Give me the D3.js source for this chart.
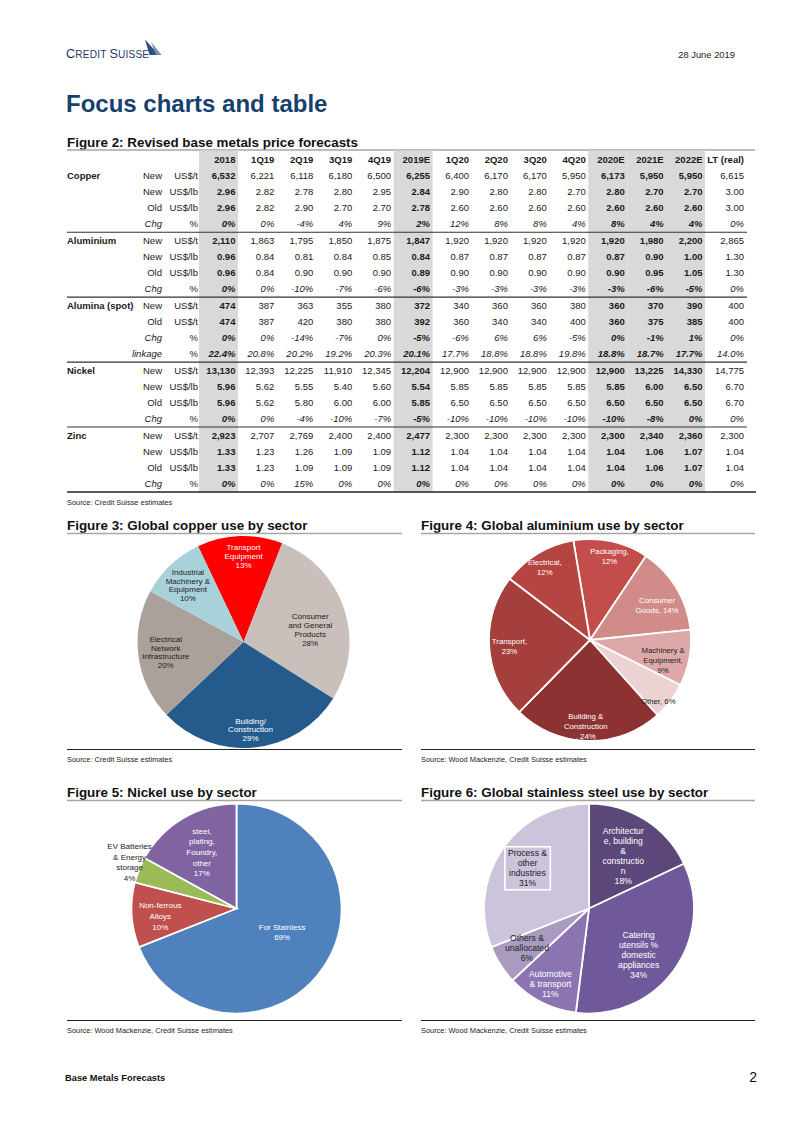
<!DOCTYPE html>
<html>
<head>
<meta charset="utf-8">
<script src="https://cdn.jsdelivr.net/npm/d3@7"></script>
<style>
  body { margin: 0; background: #fff; }
  svg { display: block; }
  text { font-family: "Liberation Sans", Arial, sans-serif; }
</style>
</head>
<body>
<svg id="page" width="802" height="1133"></svg>
<script>
// ---- table data (Figure 2) ----
const tableColumns = ["2018", "1Q19", "2Q19", "3Q19", "4Q19", "2019E", "1Q20", "2Q20", "3Q20", "4Q20", "2020E", "2021E", "2022E", "LT (real)"];
const shadedColumns = ["2018", "2019E", "2020E", "2021E", "2022E"];
const metals = ["Copper", "Aluminium", "Alumina (spot)", "Nickel", "Zinc"];

const copperRows = [
  ["New", "US$/t", ["6,532", "6,221", "6,118", "6,180", "6,500", "6,255", "6,400", "6,170", "6,170", "5,950", "6,173", "5,950", "5,950", "6,615"]],
  ["New", "US$/lb", ["2.96", "2.82", "2.78", "2.80", "2.95", "2.84", "2.90", "2.80", "2.80", "2.70", "2.80", "2.70", "2.70", "3.00"]],
  ["Old", "US$/lb", ["2.96", "2.82", "2.90", "2.70", "2.70", "2.78", "2.60", "2.60", "2.60", "2.60", "2.60", "2.60", "2.60", "3.00"]],
  ["Chg", "%", ["0%", "0%", "-4%", "4%", "9%", "2%", "12%", "8%", "8%", "4%", "8%", "4%", "4%", "0%"]]
];
const aluminiumRows = [
  ["New", "US$/t", ["2,110", "1,863", "1,795", "1,850", "1,875", "1,847", "1,920", "1,920", "1,920", "1,920", "1,920", "1,980", "2,200", "2,865"]],
  ["New", "US$/lb", ["0.96", "0.84", "0.81", "0.84", "0.85", "0.84", "0.87", "0.87", "0.87", "0.87", "0.87", "0.90", "1.00", "1.30"]],
  ["Old", "US$/lb", ["0.96", "0.84", "0.90", "0.90", "0.90", "0.89", "0.90", "0.90", "0.90", "0.90", "0.90", "0.95", "1.05", "1.30"]],
  ["Chg", "%", ["0%", "0%", "-10%", "-7%", "-6%", "-6%", "-3%", "-3%", "-3%", "-3%", "-3%", "-6%", "-5%", "0%"]]
];
const aluminaRows = [
  ["New", "US$/t", ["474", "387", "363", "355", "380", "372", "340", "360", "360", "380", "360", "370", "390", "400"]],
  ["Old", "US$/t", ["474", "387", "420", "380", "380", "392", "360", "340", "340", "400", "360", "375", "385", "400"]],
  ["Chg", "%", ["0%", "0%", "-14%", "-7%", "0%", "-5%", "-6%", "6%", "6%", "-5%", "0%", "-1%", "1%", "0%"]],
  ["linkage", "%", ["22.4%", "20.8%", "20.2%", "19.2%", "20.3%", "20.1%", "17.7%", "18.8%", "18.8%", "19.8%", "18.8%", "18.7%", "17.7%", "14.0%"]]
];
const nickelRows = [
  ["New", "US$/t", ["13,130", "12,393", "12,225", "11,910", "12,345", "12,204", "12,900", "12,900", "12,900", "12,900", "12,900", "13,225", "14,330", "14,775"]],
  ["New", "US$/lb", ["5.96", "5.62", "5.55", "5.40", "5.60", "5.54", "5.85", "5.85", "5.85", "5.85", "5.85", "6.00", "6.50", "6.70"]],
  ["Old", "US$/lb", ["5.96", "5.62", "5.80", "6.00", "6.00", "5.85", "6.50", "6.50", "6.50", "6.50", "6.50", "6.50", "6.50", "6.70"]],
  ["Chg", "%", ["0%", "0%", "-4%", "-10%", "-7%", "-5%", "-10%", "-10%", "-10%", "-10%", "-10%", "-8%", "0%", "0%"]]
];
const zincRows = [
  ["New", "US$/t", ["2,923", "2,707", "2,769", "2,400", "2,400", "2,477", "2,300", "2,300", "2,300", "2,300", "2,300", "2,340", "2,360", "2,300"]],
  ["New", "US$/lb", ["1.33", "1.23", "1.26", "1.09", "1.09", "1.12", "1.04", "1.04", "1.04", "1.04", "1.04", "1.06", "1.07", "1.04"]],
  ["Old", "US$/lb", ["1.33", "1.23", "1.09", "1.09", "1.09", "1.12", "1.04", "1.04", "1.04", "1.04", "1.04", "1.06", "1.07", "1.04"]],
  ["Chg", "%", ["0%", "0%", "15%", "0%", "0%", "0%", "0%", "0%", "0%", "0%", "0%", "0%", "0%", "0%"]]
];
const metalRows = [copperRows, aluminiumRows, aluminaRows, nickelRows, zincRows];

// ---- pie data (Figures 3-6) ----
const copperLabels = ["Transport\nEquipment\n{v}%", "Consumer\nand General\nProducts\n{v}%", "Building/\nConstruction\n{v}%", "Electrical\nNetwork\nInfrastructure\n{v}%", "Industrial\nMachinery &\nEquipment\n{v}%"];
const copperShares = [13, 28, 29, 20, 10];

const aluminiumLabels = ["Packaging,\n{v}%", "Consumer\nGoods, {v}%", "Machinery &\nEquipment,\n{v}%", "Other, {v}%", "Building &\nConstruction\n, {v}%", "Transport,\n{v}%", "Electrical,\n{v}%"];
const aluminiumShares = [12, 14, 9, 6, 24, 23, 12];

const nickelLabels = ["For Stainless\n{v}%", "Non-ferrous\nAlloys\n{v}%", "EV Batteries\n& Energy\nstorage\n{v}%", "steel,\nplating,\nFoundry,\nother\n{v}%"];
const nickelShares = [69, 10, 4, 17];

const stainlessLabels = ["Architectur\ne, building\n&\nconstructio\nn\n{v}%", "Catering\nutensils %\ndomestic\nappliances\n{v}%", "Automotive\n& transport\n{v}%", "Others &\nunallocated\n{v}%", "Process &\nother\nindustries\n{v}%"];
const stainlessShares = [18, 34, 11, 6, 31];

// ---- styles / layout ----
const copperColors = ["#ff0000", "#c9c0bb", "#255b8c", "#aaa19b", "#a9d1da"];
const copperText = ["#fff", "#222", "#fff", "#222", "#222"];
const copperLabelPos = [[0.81, 2], [0.64, 7.6], [0.83, 1], [0.74, 0], [0.75, -1]];

const aluminiumColors = ["#c24d4b", "#d18b89", "#dca9a8", "#ecd2d2", "#8c3233", "#a53f3d", "#b44541"];
const aluminiumText = ["#fff", "#fff", "#222", "#222", "#fff", "#fff", "#fff"];
const aluminiumLabelPos = [[0.85, 1], [0.75, 3.4], [0.75, 5], [0.91, 4.7], [0.86, 1.5], [0.80, -0.6], [0.85, -0.7]];

const nickelColors = ["#4f81bd", "#c0504d", "#9bbb59", "#8064a2"];
const nickelText = ["#fff", "#fff", "#222", "#fff"];
const nickelLabelPos = [[0.49, -6.7], [0.73, -2.3], [1.11, 1.8], [0.63, -1]];

const stainlessColors = ["#5b477a", "#70599a", "#8b74b1", "#a89bbf", "#cbc4da"];
const stainlessText = ["#fff", "#fff", "#fff", "#222", "#222"];
const stainlessLabelPos = [[0.60, 0.5], [0.65, 7.3], [0.81, 0], [0.70, 0], [0.70, -1]];

const navy = "#17406f";
const svg = d3.select("#page");
svg.append("rect").attr("width", 802).attr("height", 1133).attr("fill", "#fff");

// ---- page header ----
const logo = svg.append("text").attr("x", 66).attr("y", 58.3).attr("fill", "#1f3864")
  .style("letter-spacing", "0.2px");
logo.append("tspan").attr("font-size", 12.6).text("C");
logo.append("tspan").attr("font-size", 10.1).text("REDIT ");
logo.append("tspan").attr("font-size", 12.6).text("S");
logo.append("tspan").attr("font-size", 10.1).text("UISSE");
// sail mark
svg.append("path").attr("d", "M145,39.5 L159,55 L149.5,55 Z").attr("fill", "#2e4f7e");
svg.append("path").attr("d", "M151,42 Q156,48 161.5,55 L156,55 Z").attr("fill", "#6f8fb8");

svg.append("text").attr("x", 735).attr("y", 58).attr("text-anchor", "end")
  .attr("font-size", 9.4).attr("fill", "#222").text("28 June 2019");

svg.append("text").attr("x", 66).attr("y", 112).attr("font-size", 24).attr("font-weight", "bold")
  .attr("fill", navy).text("Focus charts and table");

// ---- helpers ----
function figureTitle(x, y, x2, label) {
  svg.append("text").attr("x", x).attr("y", y).attr("font-size", 13.4).attr("font-weight", "bold")
    .attr("fill", "#111").text(label);
  svg.append("line").attr("x1", x).attr("x2", x2).attr("y1", y + 3.5).attr("y2", y + 3.5)
    .attr("stroke", "#a6a6a6").attr("stroke-width", 1.5);
}
function sourceNote(x, y, x2, label) {
  svg.append("line").attr("x1", x).attr("x2", x2).attr("y1", y).attr("y2", y)
    .attr("stroke", "#222").attr("stroke-width", 1.2);
  svg.append("text").attr("x", x).attr("y", y + 12).attr("font-size", 7.4).attr("fill", "#222").text(label);
}

// ---- Figure 2 table ----
figureTitle(67, 146.5, 755, "Figure 2: Revised base metals price forecasts");

const nRows = 1 + d3.sum(metalRows, g => g.length);
const colX = d3.scaleBand().domain(tableColumns).range([199, 744]);
const rowY = d3.scaleBand().domain(d3.range(nRows)).range([151, 492]);
const bw = colX.bandwidth();
const rh = rowY.bandwidth();

svg.append("g").selectAll("rect").data(shadedColumns).enter().append("rect")
  .attr("x", d => colX(d)).attr("width", bw)
  .attr("y", 150.5).attr("height", 492 - 150.5)
  .attr("fill", "#d9d9d9");

const table = svg.append("g").attr("font-size", 9.5).attr("fill", "#1a1a1a");
table.selectAll("text.hdr").data(tableColumns).enter().append("text")
  .attr("class", "hdr")
  .attr("x", (d, i) => colX(d) + bw - (i === tableColumns.length - 1 ? 0 : 2.5))
  .attr("y", rowY(0) + rh / 2 + 3.4)
  .attr("text-anchor", "end").attr("font-weight", "bold").text(d => d);

let r = 1;
metalRows.forEach((rows, gi) => {
  if (gi > 0) {
    table.append("line").attr("x1", 67).attr("x2", 747).attr("y1", rowY(r)).attr("y2", rowY(r))
      .attr("stroke", "#333").attr("stroke-width", 1.1);
  }
  rows.forEach((row, ri) => {
    const y = rowY(r) + rh / 2 + 3.4;
    const italic = row[0] === "Chg" || row[0] === "linkage";
    if (ri === 0) {
      table.append("text").attr("x", 67).attr("y", y).attr("font-weight", "bold").text(metals[gi]);
    }
    table.append("text").attr("x", 162).attr("y", y).attr("text-anchor", "end")
      .attr("font-style", italic ? "italic" : "normal").text(row[0]);
    table.append("text").attr("x", 198).attr("y", y).attr("text-anchor", "end").text(row[1]);
    table.append("g").selectAll("text").data(row[2]).enter().append("text")
      .attr("x", (d, i) => colX(tableColumns[i]) + bw - (i === tableColumns.length - 1 ? 0 : 2.5))
      .attr("y", y)
      .attr("text-anchor", "end")
      .attr("font-weight", (d, i) => shadedColumns.includes(tableColumns[i]) ? "bold" : "normal")
      .attr("font-style", italic ? "italic" : "normal")
      .text(d => d);
    r++;
  });
});
table.append("line").attr("x1", 67).attr("x2", 756).attr("y1", 492).attr("y2", 492)
  .attr("stroke", "#222").attr("stroke-width", 1.3);
svg.append("text").attr("x", 67).attr("y", 505).attr("font-size", 7.4).attr("fill", "#222")
  .text("Source: Credit Suisse estimates");

// ---- pies ----
function drawPie(o) {
  const g = svg.append("g").attr("transform", `translate(${o.cx},${o.cy})`);
  const pie = d3.pie().sort(null).value(d => d)
    .startAngle(o.start * Math.PI / 180).endAngle(o.start * Math.PI / 180 + 2 * Math.PI);
  const arcs = pie(o.shares);
  const arc = d3.arc().innerRadius(0).outerRadius(o.r);
  g.selectAll("path").data(arcs).enter().append("path")
    .attr("d", arc)
    .attr("fill", (d, i) => o.colors[i])
    .attr("stroke", o.stroke ? "#fff" : "none")
    .attr("stroke-width", o.stroke || 0);
  arcs.forEach((a, i) => {
    const [f, shift] = o.pos[i];
    const ang = (a.startAngle + a.endAngle) / 2 + shift * Math.PI / 180;
    const lx = Math.sin(ang) * f * o.r;
    const ly = -Math.cos(ang) * f * o.r;
    const lines = o.labels[i].replace("{v}", o.shares[i]).split("\n");
    const t = g.append("text").attr("text-anchor", "middle").attr("font-size", o.fs)
      .attr("font-family", o.font).attr("fill", o.textColors[i]);
    lines.forEach((ln, k) => {
      t.append("tspan").attr("x", lx)
        .attr("y", ly + (k - (lines.length - 1) / 2) * o.lh + o.fs * 0.35).text(ln);
    });
    if (o.boxed && o.boxed === i + 1) {
      const bb = t.node().getBBox();
      g.insert("rect", "text").attr("x", bb.x - 3).attr("y", bb.y - 1.5)
        .attr("width", bb.width + 6).attr("height", bb.height + 3)
        .attr("fill", "none").attr("stroke", "#fff").attr("stroke-width", 1.6);
    }
  });
}

figureTitle(67, 530, 402, "Figure 3: Global copper use by sector");
drawPie({ cx: 243.5, cy: 642, r: 106, start: -25.4, shares: copperShares, labels: copperLabels,
  colors: copperColors, textColors: copperText, pos: copperLabelPos, fs: 8, lh: 8.8,
  font: "Liberation Sans, Arial, sans-serif" });
sourceNote(67, 749.5, 402, "Source: Credit Suisse estimates");

figureTitle(421, 530, 755, "Figure 4: Global aluminium use by sector");
drawPie({ cx: 590, cy: 640, r: 101, start: -9.5, shares: aluminiumShares, labels: aluminiumLabels,
  colors: aluminiumColors, textColors: aluminiumText, pos: aluminiumLabelPos, fs: 7.8, lh: 10,
  stroke: 1.8, font: "Carlito, Liberation Sans, Arial, sans-serif" });
sourceNote(421, 749.5, 755, "Source: Wood Mackenzie, Credit Suisse estimates");

figureTitle(67, 797, 402, "Figure 5: Nickel use by sector");
drawPie({ cx: 236.5, cy: 908.5, r: 105, start: 0, shares: nickelShares, labels: nickelLabels,
  colors: nickelColors, textColors: nickelText, pos: nickelLabelPos, fs: 8, lh: 10.7,
  stroke: 1.8, font: "Carlito, Liberation Sans, Arial, sans-serif" });
sourceNote(67, 1020.5, 402, "Source: Wood Mackenzie, Credit Suisse estimates");

figureTitle(421, 797, 755, "Figure 6: Global stainless steel use by sector");
drawPie({ cx: 589, cy: 908.5, r: 105, start: 0, shares: stainlessShares, labels: stainlessLabels,
  colors: stainlessColors, textColors: stainlessText, pos: stainlessLabelPos, fs: 8.6, lh: 10,
  stroke: 1.8, boxed: 5, font: "Liberation Sans, Arial, sans-serif" });
sourceNote(421, 1020.5, 755, "Source: Wood Mackenzie, Credit Suisse estimates");

// ---- footer ----
svg.append("text").attr("x", 65).attr("y", 1080.5).attr("font-size", 9.3).attr("font-weight", "bold")
  .attr("fill", "#111").text("Base Metals Forecasts");
svg.append("text").attr("x", 757).attr("y", 1082).attr("text-anchor", "end").attr("font-size", 14)
  .attr("fill", "#111").text("2");
</script>
</body>
</html>
